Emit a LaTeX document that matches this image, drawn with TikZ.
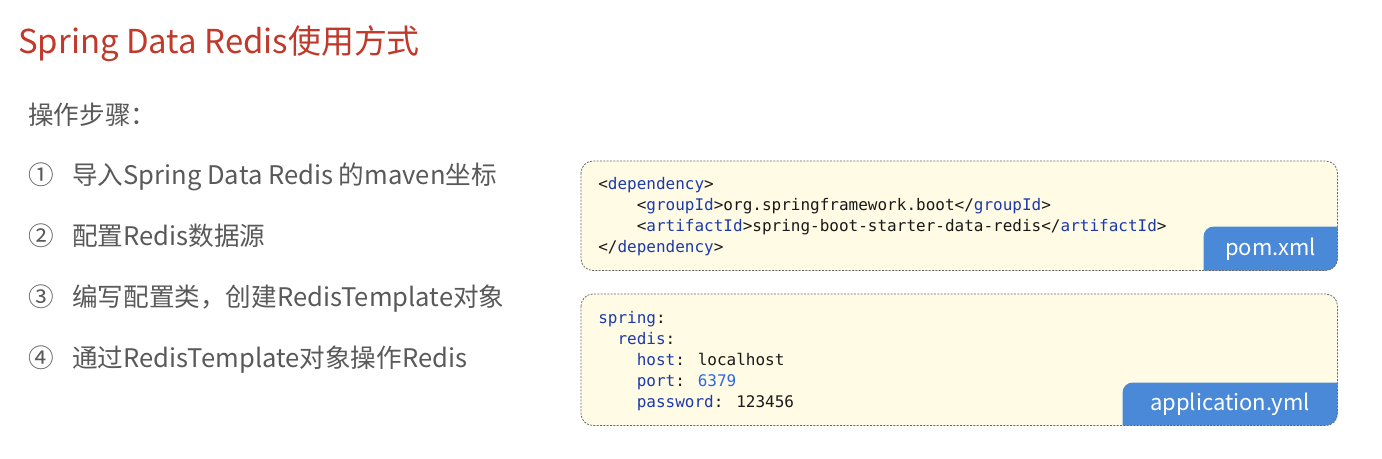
\documentclass[tikz,border=0pt]{standalone}
\usepackage{fontspec}
\setmainfont{Noto Sans CJK SC}
\newfontfamily\codefont{DejaVu Sans Mono}
\usetikzlibrary{calc}
\definecolor{titlered}{RGB}{192,57,43}
\definecolor{bodygray}{RGB}{89,89,89}
\definecolor{codebg}{RGB}{255,251,228}
\definecolor{bordergray}{RGB}{105,105,105}
\definecolor{tagfill}{RGB}{74,137,216}
\definecolor{xmltag}{RGB}{28,58,170}
\definecolor{numblue}{RGB}{45,105,225}
\definecolor{codeblack}{RGB}{25,25,25}
\newcommand\xt[1]{\textcolor{xmltag}{#1}}
\newcommand\nb[1]{\textcolor{numblue}{#1}}
\newcommand\ind[1]{\hspace*{#1\fontcharwd\font`x}}
\tikzset{
 titlestyle/.style={anchor=base west, inner sep=0pt, text=titlered, font=\fontsize{24.7pt}{29pt}\selectfont},
 headstyle/.style={anchor=base west, inner sep=0pt, text=bodygray, font=\fontsize{19.2pt}{23pt}\selectfont},
 numstyle/.style={anchor=base west, inner sep=0pt, text=bodygray, font=\fontsize{19.2pt}{23pt}\selectfont},
 itemstyle/.style={anchor=base west, inner sep=0pt, text=bodygray, font=\fontsize{19.2pt}{23pt}\selectfont},
 codebox/.style={fill=codebg, rounded corners=9pt, minimum width=567pt, anchor=north west, inner sep=0pt},
 boxline/.style={draw=bordergray, line width=0.6pt, dash pattern=on 1.5pt off 1pt, rounded corners=9pt},
 tagshape/.style={fill=tagfill, rounded corners=7.5pt},
 tagtext/.style={text=white, inner sep=0pt, font=\fontsize{16.5pt}{20pt}\selectfont},
 codestyle/.style={anchor=base west, align=left, inner sep=0pt, text=codeblack, font=\codefont\fontsize{12pt}{15.7pt}\selectfont},
}
\begin{document}
\begin{tikzpicture}[x=0.75pt,y=-0.75pt]
\useasboundingbox (0,0) rectangle (1382,458);
\fill[white] (0,0) rectangle (1382,458);

\node[titlestyle] (title) at (18,53) {Spring Data Redis使用方式};
\node[headstyle] (head) at (28,124) {操作步骤：};

\node[numstyle] (n1) at (28,184) {①};
\node[itemstyle] (s1) at (72,184) {导入Spring Data Redis 的maven坐标};
\node[numstyle] (n2) at (28,245) {②};
\node[itemstyle] (s2) at (72,245) {配置Redis数据源};
\node[numstyle] (n3) at (28,306) {③};
\node[itemstyle] (s3) at (72,306) {编写配置类，创建RedisTemplate对象};
\node[numstyle] (n4) at (28,367) {④};
\node[itemstyle] (s4) at (72,367) {通过RedisTemplate对象操作Redis};

% pom.xml box
\node[codebox, minimum height=81.75pt] (pombox) at (581,161) {};
\begin{scope}
\clip[rounded corners=9pt] (pombox.north west) rectangle (pombox.south east);
\fill[tagshape] ($(pombox.south east)+(-134,-44)$) rectangle ($(pombox.south east)+(60,60)$);
\end{scope}
\draw[boxline] (pombox.north west) rectangle (pombox.south east);
\node[tagtext] (pomtag) at ($(pombox.south east)+(-67,-21)$) {pom.xml};
\node[codestyle] (pomcode) at (598,252) {%
<\xt{dependency}>\\
\ind{4}<\xt{groupId}>org.springframework.boot</\xt{groupId}>\\
\ind{4}<\xt{artifactId}>spring-boot-starter-data-redis</\xt{artifactId}>\\
</\xt{dependency}>};

% application.yml box
\node[codebox, minimum height=98.25pt] (ymlbox) at (581,294) {};
\begin{scope}
\clip[rounded corners=9pt] (ymlbox.north west) rectangle (ymlbox.south east);
\fill[tagshape] ($(ymlbox.south east)+(-215,-43)$) rectangle ($(ymlbox.south east)+(60,60)$);
\end{scope}
\draw[boxline] (ymlbox.north west) rectangle (ymlbox.south east);
\node[tagtext] (ymltag) at ($(ymlbox.south east)+(-107.5,-21)$) {application.yml};
\node[codestyle] (ymlcode) at (598,407) {%
\xt{spring}:\\
\ind{2}\xt{redis}:\\
\ind{4}\xt{host}: localhost\\
\ind{4}\xt{port}: \nb{6379}\\
\ind{4}\xt{password}: 123456};
\end{tikzpicture}
\end{document}
